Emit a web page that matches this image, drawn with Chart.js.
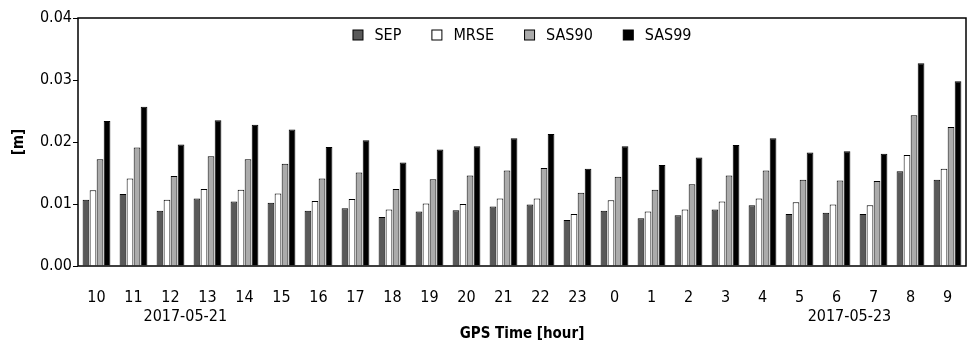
<!DOCTYPE html>
<html>
<head>
<meta charset="utf-8">
<script src="https://cdn.jsdelivr.net/npm/chart.js@4/dist/chart.umd.min.js"></script>
<style>
  html, body { margin: 0; padding: 0; background: #fff; }
  #wrap { width: 972px; height: 343px; }
</style>
</head>
<body>
<div id="wrap"><canvas id="chart" width="972" height="343"></canvas></div>
<script>
// GPS hours (2017-05-21 10h .. 2017-05-23 9h)
const hours = ['10','11','12','13','14','15','16','17','18','19','20','21','22','23','0','1','2','3','4','5','6','7','8','9'];

const sep   = [0.0107,0.0116,0.0089,0.0109,0.0104,0.0102,0.0089,0.0093,0.0079,0.0088,0.0090,0.0096,0.0099,0.0074,0.0089,0.0077,0.0082,0.0091,0.0098,0.0084,0.0086,0.0084,0.0153,0.0139];
const mrse  = [0.0122,0.0141,0.0107,0.0124,0.0123,0.0117,0.0105,0.0108,0.0091,0.0101,0.0100,0.0109,0.0109,0.0084,0.0106,0.0088,0.0091,0.0104,0.0109,0.0103,0.0099,0.0098,0.0179,0.0157];
const sas90 = [0.0172,0.0191,0.0145,0.0177,0.0172,0.0165,0.0141,0.0151,0.0124,0.0140,0.0146,0.0154,0.0158,0.0118,0.0144,0.0123,0.0132,0.0146,0.0154,0.0139,0.0138,0.0137,0.0243,0.0224];
const sas99 = [0.0234,0.0257,0.0196,0.0235,0.0228,0.0220,0.0192,0.0203,0.0167,0.0188,0.0193,0.0206,0.0213,0.0157,0.0193,0.0163,0.0175,0.0195,0.0206,0.0183,0.0185,0.0181,0.0327,0.0298];

const yTicks = [0, 0.01, 0.02, 0.03, 0.04];

// date captions under the hour labels, anchored at category index
const dateLabels = ['2017-05-21', '2017-05-23'];
const dateAnchors = [2.4, 20.35];

const FONT = "'Liberation Sans Narrow', 'DejaVu Sans Condensed', sans-serif";

// frame, legend inside the plot (one row, centred) and date captions
const framePlugin = {
    id: 'frame',
    afterDraw(chart) {
        const { ctx, chartArea: a, scales } = chart;
        ctx.save();
        ctx.strokeStyle = '#000';
        ctx.lineWidth = 1.5;
        ctx.strokeRect(a.left, a.top, a.right - a.left, a.bottom - a.top);

        ctx.fillStyle = '#000';
        ctx.font = '16px ' + FONT;
        ctx.textAlign = 'center';
        ctx.textBaseline = 'middle';
        dateLabels.forEach((d, i) => {
            ctx.fillText(d, scales.x.getPixelForValue(dateAnchors[i]), 317);
        });

        // legend
        const box = 11, gap = 11, itemGap = 30, cy = 35;
        const sets = chart.data.datasets;
        const widths = sets.map(ds => box + gap + ctx.measureText(ds.label).width);
        const total = widths.reduce((s, w) => s + w, 0) + itemGap * (sets.length - 1);
        let x = (a.left + a.right) / 2 - total / 2;
        ctx.textAlign = 'left';
        ctx.lineWidth = 1;
        sets.forEach((ds, i) => {
            ctx.fillStyle = ds.backgroundColor;
            ctx.fillRect(x + 0.5, cy - box / 2 + 0.5, box - 1, box - 1);
            ctx.strokeStyle = '#000';
            ctx.strokeRect(x + 0.5, cy - box / 2 + 0.5, box - 1, box - 1);
            ctx.fillStyle = '#000';
            ctx.fillText(ds.label, x + box + gap, cy + 1);
            x += widths[i] + itemGap;
        });
        ctx.restore();
    }
};

const mk = (label, data, color) => ({
    label: label,
    data: data,
    backgroundColor: color,
    borderColor: '#000',
    borderWidth: 1,
    categoryPercentage: 0.76,
    barPercentage: 0.95
});

new Chart(document.getElementById('chart'), {
    type: 'bar',
    data: {
        labels: hours,
        datasets: [
            mk('SEP', sep, '#595959'),
            mk('MRSE', mrse, '#ffffff'),
            mk('SAS90', sas90, '#ababab'),
            mk('SAS99', sas99, '#000000')
        ]
    },
    options: {
        responsive: false,
        animation: false,
        layout: { padding: { top: 18, right: 6, left: 0, bottom: 0 } },
        plugins: {
            legend: { display: false },
            tooltip: { enabled: false }
        },
        scales: {
            x: {
                grid: { display: false },
                border: { display: false },
                ticks: {
                    color: '#000',
                    font: { family: FONT, size: 16 },
                    padding: 14,
                    maxRotation: 0,
                    autoSkip: false
                },
                title: {
                    display: true,
                    text: 'GPS Time [hour]',
                    color: '#000',
                    font: { family: FONT, size: 15, weight: 'bold' },
                    padding: { top: 0, bottom: 0 }
                },
                afterFit(scale) { scale.height = 77; }
            },
            y: {
                min: 0,
                max: 0.04,
                afterBuildTicks(scale) { scale.ticks = yTicks.map(v => ({ value: v })); },
                grid: { drawOnChartArea: false, drawTicks: true, tickLength: 5, color: '#000' },
                border: { display: false },
                ticks: {
                    color: '#000',
                    font: { family: FONT, size: 16 },
                    padding: 1,
                    callback: v => v.toFixed(2)
                },
                title: {
                    display: true,
                    text: '[m]',
                    color: '#000',
                    font: { family: FONT, size: 15, weight: 'bold' },
                    padding: { top: 10, bottom: 4 }
                },
                afterFit(scale) { scale.width = 78; }
            }
        }
    },
    plugins: [framePlugin]
});
</script>
</body>
</html>
